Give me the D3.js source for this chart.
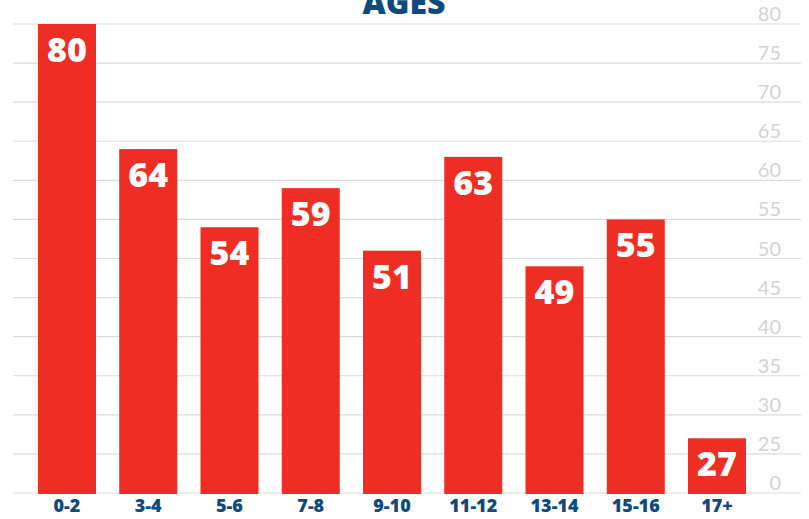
<!DOCTYPE html>
<html>
<head>
<meta charset="utf-8">
<script src="https://cdn.jsdelivr.net/npm/d3@7"></script>
<style>
  body { margin: 0; background: #fff; }
  svg { display: block; font-family: "Open Sans", Lato, sans-serif; }
</style>
</head>
<body>
<div id="chart"></div>
<script>
const ages = ["0-2", "3-4", "5-6", "7-8", "9-10", "11-12", "13-14", "15-16", "17+"];
const counts = [80, 64, 54, 59, 51, 63, 49, 55, 27];
// axis is broken: 0 sits one step below 25
const tickValues = [20, 25, 30, 35, 40, 45, 50, 55, 60, 65, 70, 75, 80];
const tickLabels = ["0", "25", "30", "35", "40", "45", "50", "55", "60", "65", "70", "75", "80"];

const width = 809, height = 519;

const svg = d3.select("#chart").append("svg")
  .attr("width", width)
  .attr("height", height);

const x = d3.scaleBand()
  .domain(ages)
  .range([14, 770])
  .paddingInner(0.286)
  .paddingOuter(0.295);

const y = d3.scaleLinear().domain([20, 80]).range([493, 24]);

// grid lines
svg.append("g")
  .selectAll("line")
  .data(tickValues)
  .join("line")
    .attr("x1", 13)
    .attr("x2", 801)
    .attr("y1", d => y(d))
    .attr("y2", d => y(d))
    .attr("stroke", "#dcdcdc")
    .attr("stroke-width", 1.2);

// y labels on the right
svg.append("g")
  .selectAll("text")
  .data(tickValues)
  .join("text")
    .attr("x", 781)
    .attr("y", d => y(d) - 3)
    .attr("text-anchor", "end")
    .attr("fill", "#d3d3d3")
    .style("font-family", "Lato, sans-serif")
    .style("font-size", "20px")
    .text((d, i) => tickLabels[i]);

// bars
svg.append("g")
  .selectAll("rect")
  .data(counts)
  .join("rect")
    .attr("x", (d, i) => x(ages[i]))
    .attr("width", x.bandwidth())
    .attr("y", d => y(d))
    .attr("height", d => 494 - y(d))
    .attr("fill", "#ee2e24");

// value labels
svg.append("g")
  .selectAll("text")
  .data(counts)
  .join("text")
    .attr("x", (d, i) => x(ages[i]) + x.bandwidth() / 2)
    .attr("y", d => y(d) + 38)
    .attr("text-anchor", "middle")
    .attr("fill", "#fff")
    .style("font-size", "34px")
    .style("font-weight", "800")
    .text(d => d);

// x labels
svg.append("g")
  .selectAll("text")
  .data(ages)
  .join("text")
    .attr("x", d => x(d) + x.bandwidth() / 2)
    .attr("y", 512)
    .attr("text-anchor", "middle")
    .attr("fill", "#0e4a7e")
    .style("font-size", "18px")
    .style("font-weight", "800")
    .text(d => d);

// title (cut off at the top, as in the original)
svg.append("text")
  .attr("x", 404)
  .attr("y", 14)
  .attr("text-anchor", "middle")
  .attr("fill", "#0e4a7e")
  .style("font-size", "32px")
  .style("font-weight", "800")
  .text("AGES");
</script>
</body>
</html>
